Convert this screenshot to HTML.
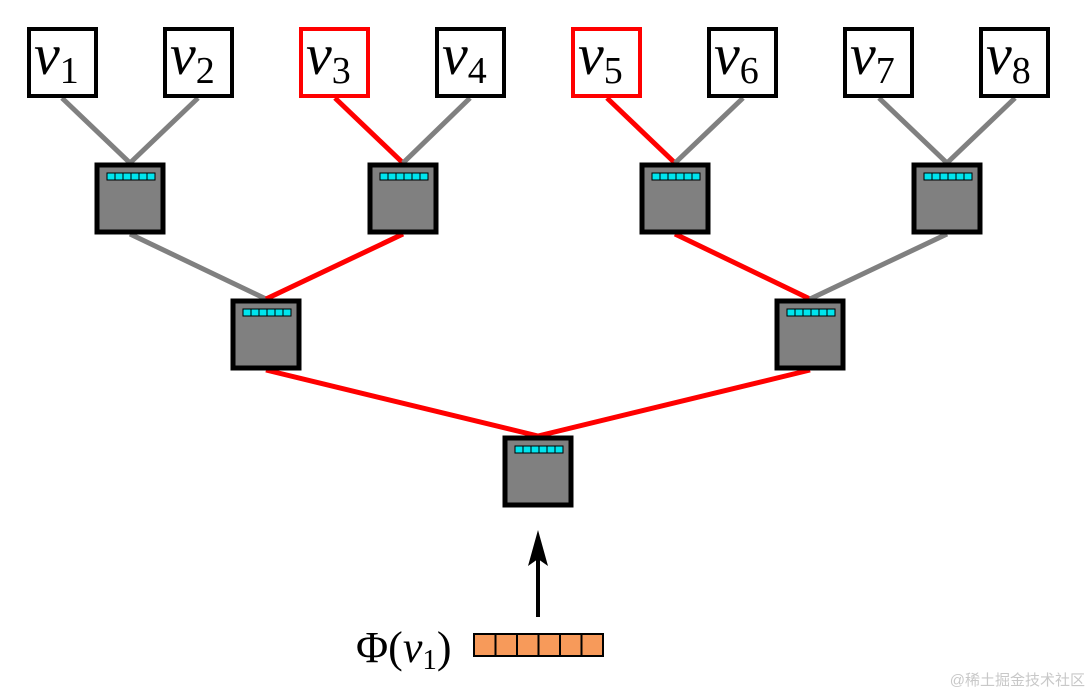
<!DOCTYPE html><html><head><style>body{margin:0;background:#fff}svg{display:block}</style></head><body>
<svg width="1092" height="694" xmlns="http://www.w3.org/2000/svg">
<g stroke-width="5" fill="none">
<line x1="62" y1="98" x2="130" y2="163" stroke="#808080"/>
<line x1="198" y1="98" x2="130" y2="163" stroke="#808080"/>
<line x1="335" y1="98" x2="403" y2="163" stroke="#f00"/>
<line x1="470" y1="98" x2="403" y2="163" stroke="#808080"/>
<line x1="607" y1="98" x2="675" y2="163" stroke="#f00"/>
<line x1="743" y1="98" x2="675" y2="163" stroke="#808080"/>
<line x1="879" y1="98" x2="947" y2="163" stroke="#808080"/>
<line x1="1015" y1="98" x2="947" y2="163" stroke="#808080"/>
<line x1="130" y1="234" x2="266" y2="299" stroke="#808080"/>
<line x1="403" y1="234" x2="266" y2="299" stroke="#f00"/>
<line x1="675" y1="234" x2="810" y2="299" stroke="#f00"/>
<line x1="947" y1="234" x2="810" y2="299" stroke="#808080"/>
<line x1="266" y1="370" x2="538" y2="436" stroke="#f00"/>
<line x1="810" y1="370" x2="538" y2="436" stroke="#f00"/>
</g>
<g font-family="Liberation Serif, serif" font-style="italic" font-size="58">
<rect x="29" y="29" width="67" height="67" fill="#fff" stroke="#000" stroke-width="4"/>
<rect x="165" y="29" width="67" height="67" fill="#fff" stroke="#000" stroke-width="4"/>
<rect x="301" y="29" width="67" height="67" fill="#fff" stroke="#f00" stroke-width="4"/>
<rect x="437" y="29" width="67" height="67" fill="#fff" stroke="#000" stroke-width="4"/>
<rect x="573" y="29" width="67" height="67" fill="#fff" stroke="#f00" stroke-width="4"/>
<rect x="709" y="29" width="67" height="67" fill="#fff" stroke="#000" stroke-width="4"/>
<rect x="845" y="29" width="67" height="67" fill="#fff" stroke="#000" stroke-width="4"/>
<rect x="981" y="29" width="67" height="67" fill="#fff" stroke="#000" stroke-width="4"/>
<text x="34" y="74">v<tspan font-style="normal" font-size="38" dy="9">1</tspan></text>
<text x="170" y="74">v<tspan font-style="normal" font-size="38" dy="9">2</tspan></text>
<text x="306" y="74">v<tspan font-style="normal" font-size="38" dy="9">3</tspan></text>
<text x="442" y="74">v<tspan font-style="normal" font-size="38" dy="9">4</tspan></text>
<text x="578" y="74">v<tspan font-style="normal" font-size="38" dy="9">5</tspan></text>
<text x="714" y="74">v<tspan font-style="normal" font-size="38" dy="9">6</tspan></text>
<text x="850" y="74">v<tspan font-style="normal" font-size="38" dy="9">7</tspan></text>
<text x="986" y="74">v<tspan font-style="normal" font-size="38" dy="9">8</tspan></text>
</g>
<defs>
<g id="n">
<rect x="-33" y="2" width="66" height="67" fill="#808080" stroke="#000" stroke-width="5"/>
<rect x="-23" y="10" width="48" height="7" fill="#00e5ee" stroke="#000" stroke-width="1"/>
<path d="M-15 10v7M-7 10v7M1 10v7M9 10v7M17 10v7" stroke="#000" stroke-width="1"/>
</g>
</defs>
<use href="#n" x="130" y="163"/>
<use href="#n" x="403" y="163"/>
<use href="#n" x="675" y="163"/>
<use href="#n" x="947" y="163"/>
<use href="#n" x="266" y="299"/>
<use href="#n" x="810" y="299"/>
<use href="#n" x="538" y="436"/>
<line x1="538" y1="617" x2="538" y2="555" stroke="#000" stroke-width="4"/>
<path d="M538 530 L528 566 L538 559 L548 566 Z" fill="#000"/>
<rect x="474" y="634" width="129" height="22" fill="#f79a5a" stroke="#000" stroke-width="2"/>
<path d="M495.5 634v22M517 634v22M538.5 634v22M560 634v22M581.5 634v22" stroke="#000" stroke-width="2"/>
<text x="356" y="662" font-family="Liberation Serif, serif" font-size="44">Φ(<tspan font-style="italic">v</tspan><tspan font-size="29" dy="7">1</tspan><tspan dy="-7">)</tspan></text>
<text x="1085" y="685" text-anchor="end" font-family="Liberation Sans, Noto Sans CJK SC, sans-serif" font-size="15" fill="#c8c8c8">@稀土掘金技术社区</text>
</svg>
</body></html>
